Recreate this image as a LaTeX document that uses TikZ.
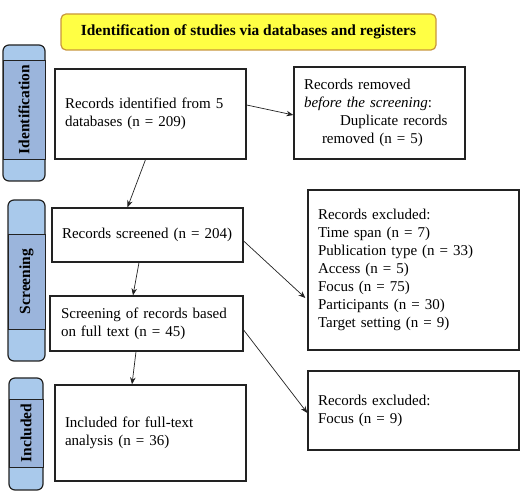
\documentclass[tikz,border=0pt]{standalone}
\usepackage{fontspec}
\setmainfont{Liberation Serif}
\usetikzlibrary{arrows.meta,calc}
\definecolor{barblue}{HTML}{A9C9EB}
\definecolor{bandblue}{HTML}{9BB5DC}
\definecolor{bannery}{HTML}{FFFF44}
\definecolor{bannerb}{HTML}{C8963C}
\definecolor{edge}{HTML}{222222}
\tikzset{
  x=1pt,y=1pt,
  every node/.style={font=\fontsize{15}{18}\selectfont},
  box/.style={draw=edge, line width=1.3pt, rectangle, inner xsep=10pt, inner ysep=0pt, align=left},
  sidebar/.style={draw=edge, line width=1.2pt, fill=barblue, rounded corners=6pt},
  band/.style={draw=edge, line width=0.6pt, fill=bandblue},
  sidelabel/.style={rotate=90, font=\fontsize{15.5}{18}\selectfont\bfseries},
  flow/.style={draw=edge, line width=0.7pt, -{Stealth[length=7pt,width=5.5pt]}},
}
\begin{document}
\begin{tikzpicture}
\useasboundingbox (0,0) rectangle (528,-494);
% banner
\node[draw=bannerb, line width=1.2pt, fill=bannery, rounded corners=5pt,
      minimum width=375pt, minimum height=36pt, font=\fontsize{15.4}{18}\selectfont\bfseries]
      (banner) at (248.5,-32) {Identification of studies via databases and registers};
% side bars
\draw[sidebar] (3,-45) rectangle (45,-181);
\draw[band] (3,-60) rectangle (45,-159);
\node[sidelabel] (lid) at (24,-109.5) {Identification};
\draw[sidebar] (8,-200) rectangle (45,-361);
\draw[band] (8,-234) rectangle (45,-329);
\node[sidelabel] (lsc) at (26.5,-281.5) {Screening};
\draw[sidebar] (9,-378) rectangle (43,-490);
\draw[band] (9,-399) rectangle (43,-467);
\node[sidelabel] (lin) at (26,-433) {Included};
% boxes
\node[box, minimum width=191pt, minimum height=90pt, text width=171pt] (ident) at (150.5,-114)
  {Records identified from 5\\databases (n = 209)};
\node[box, minimum width=171pt, minimum height=92pt, text width=151pt] (removed) at (379.5,-113)
  {Records removed\\\textit{before the screening}:\\\hspace*{36pt}Duplicate records\\\hspace*{18pt}removed (n = 5)};
\node[box, minimum width=191pt, minimum height=54pt, text width=171pt] (screened) at (147.5,-235)
  {Records screened (n = 204)};
\node[box, minimum width=193pt, minimum height=55pt, text width=171pt, inner xsep=11pt] (fulltext) at (146.5,-323.5)
  {Screening of records based\\on full text (n = 45)};
\node[box, minimum width=191pt, minimum height=96pt, text width=171pt] (included) at (150.5,-433)
  {Included for full-text\\analysis (n = 36)};
\node[box, minimum width=211pt, minimum height=160pt, text width=191pt] (excl1) at (413.5,-270)
  {Records excluded:\\Time span (n = 7)\\Publication type (n = 33)\\Access (n = 5)\\Focus (n = 75)\\Participants (n = 30)\\Target setting (n = 9)};
\node[box, minimum width=211pt, minimum height=79pt, text width=191pt] (excl2) at (413.5,-410.5)
  {Records excluded:\\Focus (n = 9)};
% connectors
\draw[flow] ($(ident.east)+(0,9)$) -- ($(removed.west)+(0,-2)$);
\draw[flow] ($(ident.south)+(-5,0)$) -- ($(screened.north)+(-20,0)$);
\draw[flow] ($(screened.east)+(0,-6)$) -- ($(excl1.west)+(-2,-28)$);
\draw[flow] ($(screened.south)+(-8.5,0)$) -- ($(fulltext.north)+(-13.5,0)$);
\draw[flow] ($(fulltext.east)+(0,-6.5)$) -- ($(excl2.west)+(0,-2.5)$);
\draw[flow] ($(fulltext.south)+(-10.5,0)$) -- ($(included.north)+(-18.5,0)$);
\end{tikzpicture}
\end{document}
